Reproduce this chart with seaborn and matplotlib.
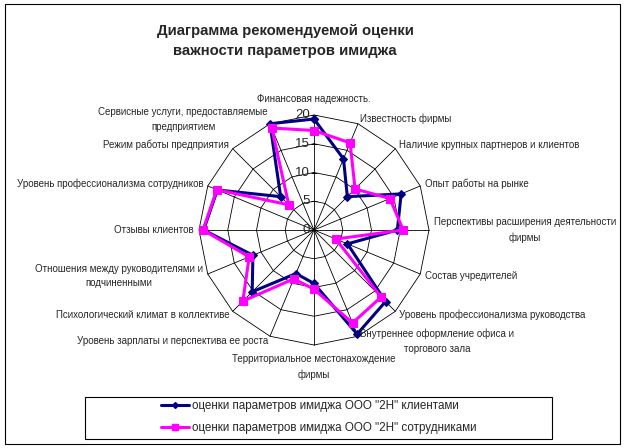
import matplotlib
matplotlib.use("Agg")
import matplotlib.pyplot as plt
from matplotlib.lines import Line2D
from matplotlib.patches import Rectangle
from matplotlib.transforms import offset_copy
import numpy as np
import pandas as pd
import seaborn as sns

# values (clockwise from the top)
categories = [
    "Финансовая надежность.",
    "Известность фирмы",
    "Наличие крупных партнеров и клиентов",
    "Опыт работы на рынке",
    "Перспективы расширения деятельности\nфирмы",
    "Состав учредителей",
    "Уровень профессионализма руководства",
    "Внутреннее оформление офиса и\nторгового зала",
    "Территориальное местонахождение\nфирмы",
    "Уровень зарплаты и перспектива ее роста",
    "Психологический климат в коллективе",
    "Отношения между руководителями и\nподчиненными",
    "Отзывы клиентов",
    "Уровень профессионализма сотрудников",
    "Режим работы предприятия",
    "Сервисные услуги, предоставляемые\nпредприятием",
]
clients = [19.3, 13.4, 8.2, 16.4, 14.5, 6.3, 17.6, 19.6,
           9.3, 8.2, 15.2, 11.5, 19.2, 18.2, 8.2, 20.0]
staff = [17.3, 16.4, 10.1, 14.3, 15.5, 4.1, 16.5, 17.5,
         10.3, 9.2, 17.5, 12.2, 19.3, 18.3, 6.2, 19.2]
rings = [0, 5, 10, 15, 20]
series_names = [
    'оценки параметров имиджа ООО "2Н" клиентами',
    'оценки параметров имиджа ООО "2Н" сотрудниками',
]
title = "Диаграмма рекомендуемой оценки\nважности параметров имиджа"

sns.set_style("white")
plt.rcParams["font.family"] = ["Liberation Sans", "DejaVu Sans"]

n = len(categories)
theta = np.linspace(0, 2 * np.pi, n, endpoint=False)
theta_closed = np.append(theta, 2 * np.pi)
df = pd.DataFrame({
    "theta": theta_closed,
    "clients": clients + clients[:1],
    "staff": staff + staff[:1],
})

W, H = 625, 448
fig = plt.figure(figsize=(W / 100, H / 100), dpi=100)

# radar centred at (314, 230) px, radius 115 px
cx, cy, R = 314, 230, 115
ax = fig.add_axes([(cx - R) / W, (H - cy - R) / H, 2 * R / W, 2 * R / H],
                  projection="polar")
ax.set_theta_zero_location("N")
ax.set_theta_direction(-1)
ax.grid(False)
ax.spines["polar"].set_visible(False)
ax.patch.set_alpha(0)

# polygon gridlines and spokes
for r in rings[1:]:
    ax.plot(theta_closed, [r] * (n + 1), color="black", lw=0.6, zorder=1)
for t in theta:
    ax.plot([t, t], [0, rings[-1]], color="black", lw=0.6, zorder=1)

# data series
sns.lineplot(data=df, x="theta", y="clients", ax=ax, sort=False, estimator=None,
             color="#000080", lw=2.2, marker="D", markersize=4,
             markeredgecolor="#000080", legend=False, zorder=3)
sns.lineplot(data=df, x="theta", y="staff", ax=ax, sort=False, estimator=None,
             color="#FF00FF", lw=2.2, marker="s", markersize=5.5,
             markeredgecolor="#FF00FF", legend=False, zorder=4)
for ln in ax.lines:
    ln.set_clip_on(False)

ax.set_ylim(0, rings[-1])
ax.set_xticks([])
ax.set_yticks([])
ax.set_xlabel("")
ax.set_ylabel("")

# radial scale on the top spoke
ax.plot([0] * len(rings), rings, ls="none", marker="_", ms=5, mew=0.7,
        color="black", clip_on=False, zorder=2)
lab_tr = offset_copy(ax.transData, fig=fig, x=-4, y=0, units="dots")
for r in rings:
    ax.text(0, r, str(r), transform=lab_tr, ha="right", va="center",
            fontsize=9.5, zorder=5)

# category labels
for t, name in zip(theta, categories):
    s, c = np.sin(t), np.cos(t)
    ha = "left" if s > 0.1 else ("right" if s < -0.1 else "center")
    va = "bottom" if c > 0.99 else ("top" if c < -0.99 else "center")
    off = 5
    if c > 0.99:
        off = 11
    elif c < -0.99:
        off = 9
    ax.annotate(name, xy=(t, rings[-1]), xytext=(off * s, off * c),
                textcoords="offset pixels", ha=ha, va=va,
                multialignment="center", fontsize=7, linespacing=1.6,
                annotation_clip=False)

fig.text(285 / W, 1 - 41 / H, title, ha="center", va="center",
         fontsize=10.7, fontweight="bold", linespacing=1.55)

# legend box and entries
fig.patches.append(Rectangle((85 / W, 1 - 439 / H), 467 / W, 42 / H,
                             transform=fig.transFigure, fill=False,
                             edgecolor="black", lw=0.8))
handles = [
    Line2D([], [], color="#000080", lw=2.2, marker="D", markersize=3),
    Line2D([], [], color="#FF00FF", lw=2.2, marker="s", markersize=5),
]
fig.legend(handles, series_names, loc="center",
           bbox_to_anchor=(319 / W, 1 - 417 / H), frameon=False, fontsize=8.4,
           handlelength=2.4, handletextpad=0.3, labelspacing=0.85,
           borderpad=0)

# chart area border
fig.patches.append(Rectangle((5 / W, 4 / H), 615 / W, 440 / H,
                             transform=fig.transFigure, fill=False,
                             edgecolor="black", lw=0.8))

fig.savefig("out.png", dpi=100)
